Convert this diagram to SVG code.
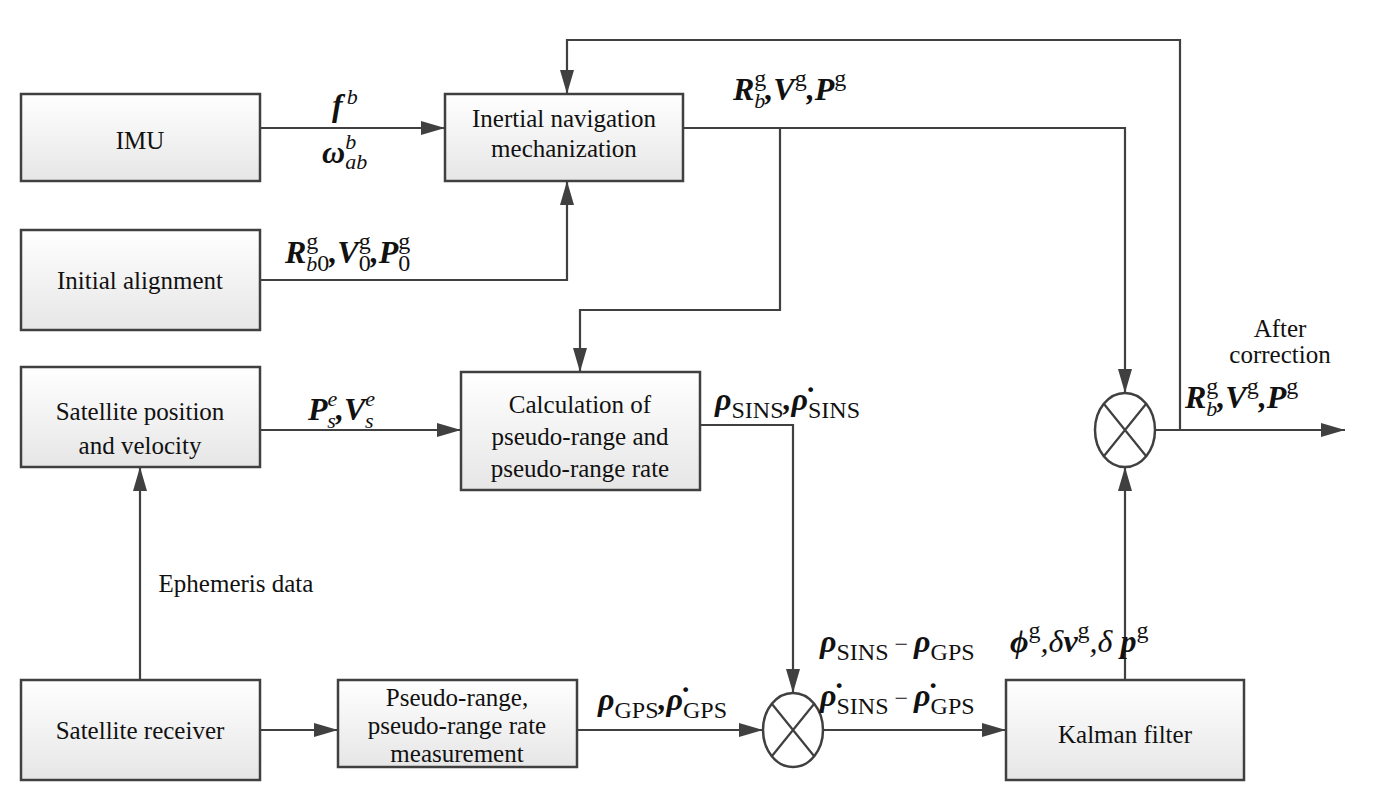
<svg xmlns="http://www.w3.org/2000/svg" width="1382" height="798" viewBox="0 0 1382 798">
<defs>
<linearGradient id="g" x1="0" y1="0" x2="0" y2="1"><stop offset="0" stop-color="#ffffff"/><stop offset="1" stop-color="#e6e6e6"/></linearGradient>
<marker id="a" markerWidth="24" markerHeight="14" refX="24" refY="7" orient="auto" markerUnits="userSpaceOnUse"><path d="M0,0 L24,7 L0,14 Z" fill="#404040"/></marker>
<style>
.b{fill:url(#g);stroke:#404040;stroke-width:2.5}
text{font-family:"Liberation Serif","Times New Roman","DejaVu Serif",serif}
.t{font-size:25px;fill:#111;text-anchor:middle}
.m{font-size:32px;font-weight:bold;font-style:italic;fill:#111}
.s{font-size:22px;font-weight:normal}
.u{font-size:24px;font-weight:normal;font-style:normal}
.c{fill:none;stroke:#404040;stroke-width:2.2}
</style>
</defs>
<rect width="1382" height="798" fill="#fff"/>
<g id="imu"><rect class="b" x="21" y="94" width="239" height="87"/><text class="t" x="140" y="149" font-size="32">IMU</text></g>
<g id="ins"><rect class="b" x="445" y="94" width="238" height="87"/><text class="t" x="564" y="127">Inertial navigation</text><text class="t" x="564" y="157">mechanization</text></g>
<g id="init"><rect class="b" x="21" y="230" width="239" height="100"/><text class="t" x="140" y="289">Initial alignment</text></g>
<g id="satpos"><rect class="b" x="21" y="367" width="239" height="100"/><text class="t" x="140" y="420">Satellite position</text><text class="t" x="140" y="454">and velocity</text></g>
<g id="calc"><rect class="b" x="461" y="372" width="239" height="118"/><text class="t" x="580" y="413">Calculation of</text><text class="t" x="580" y="445">pseudo-range and</text><text class="t" x="580" y="477">pseudo-range rate</text></g>
<g id="recv"><rect class="b" x="21" y="680" width="239" height="100"/><text class="t" x="140" y="739">Satellite receiver</text></g>
<g id="meas"><rect class="b" x="338" y="680" width="239" height="87"/><text class="t" x="457" y="706">Pseudo-range,</text><text class="t" x="457" y="734">pseudo-range rate</text><text class="t" x="457" y="762">measurement</text></g>
<g id="kf"><rect class="b" x="1006" y="680" width="238" height="100"/><text class="t" x="1125" y="743">Kalman filter</text></g>
<g id="sum1"><ellipse cx="793" cy="730" rx="30" ry="37" fill="#fff" stroke="#404040" stroke-width="2.5"/><path d="M772,704 L814,756 M814,704 L772,756" stroke="#404040" stroke-width="2.2"/></g>
<g id="sum2"><ellipse cx="1125" cy="430" rx="30" ry="37" fill="#fff" stroke="#404040" stroke-width="2.5"/><path d="M1104,404 L1146,456 M1146,404 L1104,456" stroke="#404040" stroke-width="2.2"/></g>
<g id="connectors">
<path class="c" d="M260,128 H445" marker-end="url(#a)"/>
<path class="c" d="M260,280 H567 V181" marker-end="url(#a)"/>
<path class="c" d="M1180,430 V40 H567 V94" marker-end="url(#a)"/>
<path class="c" d="M683,128 H1125 V393" marker-end="url(#a)"/>
<path class="c" d="M780,128 V310 H580 V372" marker-end="url(#a)"/>
<path class="c" d="M260,430 H461" marker-end="url(#a)"/>
<path class="c" d="M700,425 H793 V693" marker-end="url(#a)"/>
<path class="c" d="M140,680 V467" marker-end="url(#a)"/>
<path class="c" d="M260,730 H338" marker-end="url(#a)"/>
<path class="c" d="M577,730 H763" marker-end="url(#a)"/>
<path class="c" d="M823,730 H1006" marker-end="url(#a)"/>
<path class="c" d="M1125,680 V467" marker-end="url(#a)"/>
<path class="c" d="M1155,430 H1345" marker-end="url(#a)"/>
</g>
<g id="labels">
<text class="m" x="332" y="116">f<tspan class="s" dx="4" dy="-12">b</tspan></text>
<text class="m" x="322" y="163">ω<tspan class="s" dy="-14">b</tspan><tspan class="s" dy="20" dx="-11">ab</tspan></text>
<text class="m" x="285" y="263">R<tspan class="u" dy="-14">g</tspan><tspan class="s" dy="22" dx="-12">b</tspan><tspan class="u">0</tspan><tspan dy="-8">,V</tspan><tspan class="u" dy="-14">g</tspan><tspan class="u" dy="22" dx="-12">0</tspan><tspan dy="-8">,P</tspan><tspan class="u" dy="-14">g</tspan><tspan class="u" dy="22" dx="-12">0</tspan></text>
<text class="m" x="733" y="100">R<tspan class="u" dy="-14">g</tspan><tspan class="s" dy="22" dx="-12">b</tspan><tspan dy="-8">,V</tspan><tspan class="u" dy="-14">g</tspan><tspan dy="14">,P</tspan><tspan class="u" dy="-14">g</tspan></text>
<text class="m" x="308" y="420">P<tspan class="s" dy="-14">e</tspan><tspan class="s" dy="22" dx="-10">s</tspan><tspan dy="-8">,V</tspan><tspan class="s" dy="-14">e</tspan><tspan class="s" dy="22" dx="-10">s</tspan></text>
<text class="m" x="715" y="410">ρ<tspan class="u" dy="8">SINS</tspan><tspan dy="-8">,ρ̇</tspan><tspan class="u" dy="8">SINS</tspan></text>
<text class="t" x="236" y="592">Ephemeris data</text>
<text class="m" x="598" y="710">ρ<tspan class="u" dy="8">GPS</tspan><tspan dy="-8">,ρ̇</tspan><tspan class="u" dy="8">GPS</tspan></text>
<text class="m" x="820" y="652">ρ<tspan class="u" dy="8">SINS</tspan><tspan class="u" dy="-8"> − </tspan><tspan>ρ</tspan><tspan class="u" dy="8">GPS</tspan></text>
<text class="m" x="820" y="706">ρ̇<tspan class="u" dy="8">SINS</tspan><tspan class="u" dy="-8"> − </tspan><tspan>ρ̇</tspan><tspan class="u" dy="8">GPS</tspan></text>
<text class="m" x="1010" y="652">ϕ<tspan class="u" dy="-14">g</tspan><tspan dy="14" font-weight="normal">,δ</tspan><tspan>v</tspan><tspan class="u" dy="-14">g</tspan><tspan dy="14" font-weight="normal">,δ</tspan><tspan> p</tspan><tspan class="u" dy="-14">g</tspan></text>
<text class="t" x="1280" y="337">After</text>
<text class="t" x="1280" y="363">correction</text>
<text class="m" x="1185" y="408">R<tspan class="u" dy="-14">g</tspan><tspan class="s" dy="22" dx="-12">b</tspan><tspan dy="-8">,V</tspan><tspan class="u" dy="-14">g</tspan><tspan dy="14">,P</tspan><tspan class="u" dy="-14">g</tspan></text>
</g>
</svg>
